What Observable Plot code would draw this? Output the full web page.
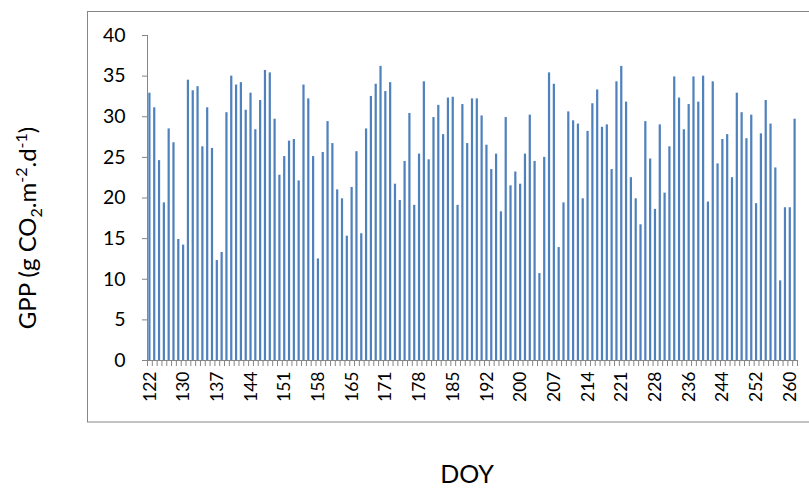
<!DOCTYPE html>
<html><head><meta charset="utf-8">
<script src="https://cdn.jsdelivr.net/npm/d3@7"></script>
<script src="https://cdn.jsdelivr.net/npm/@observablehq/plot@0.6"></script>
<style>body{margin:0;background:#fff} svg{display:block}</style>
</head><body><div id="chart"></div>
<script>
const gpp = [
  32.9, 31.1, 24.6, 19.4, 28.5, 26.8, 14.9, 14.2, 34.5, 33.2,
  33.7, 26.3, 31.1, 26.1, 12.3, 13.3, 30.5, 35.0, 33.9, 34.2,
  30.8, 32.9, 28.4, 32.0, 35.7, 35.4, 29.7, 22.8, 25.1, 27.0,
  27.2, 22.1, 33.9, 32.2, 25.1, 12.5, 25.6, 29.4, 26.7, 21.0,
  19.9, 15.3, 21.3, 25.7, 15.6, 28.5, 32.5, 34.0, 36.2, 33.1,
  34.2, 21.7, 19.7, 24.5, 30.4, 19.1, 25.4, 34.3, 24.7, 29.9,
  31.4, 27.8, 32.3, 32.4, 19.1, 31.5, 26.7, 32.2, 32.2, 30.1,
  26.5, 23.5, 25.4, 18.3, 29.9, 21.5, 23.2, 21.7, 25.4, 30.2,
  24.5, 10.7, 25.0, 35.4, 34.0, 13.9, 19.4, 30.6, 29.5, 29.1,
  19.9, 28.2, 31.6, 33.3, 28.7, 29.0, 23.5, 34.3, 36.2, 31.8,
  22.5, 19.9, 16.7, 29.4, 24.8, 18.6, 29.0, 20.6, 26.3, 34.9,
  32.3, 28.4, 31.5, 34.9, 31.8, 35.0, 19.5, 34.3, 24.2, 27.2,
  27.8, 22.5, 32.9, 30.5, 27.3, 30.2, 19.3, 27.9, 32.0, 29.1,
  23.7, 9.8, 18.8, 18.8, 29.7
];
const tickLabels = ["122","130","137","144","151","158","165","171","178","185",
  "192","200","207","214","221","228","236","244","252","260"];
const tickEvery = 7;
const yTicks = [0, 5, 10, 15, 20, 25, 30, 35, 40];

const data = gpp.map((v, i) => ({i, v}));
const labelPos = tickLabels.map((_, k) => k * tickEvery + 0.5);
const font = "Lato, 'Open Sans', sans-serif";
const gray = "#868686";

const chart = Plot.plot({
  width: 809, height: 489,
  marginLeft: 147, marginRight: 12, marginTop: 35, marginBottom: 129,
  style: {fontFamily: font, fontSize: "17px", color: "#000", background: "#fff"},
  x: {type: "linear", domain: [0, gpp.length]},
  y: {domain: [0, 40]},
  marks: [
    Plot.rectY(data, {x1: "i", x2: d => d.i + 1, y: "v", insetLeft: 1.3, insetRight: 1.3, fill: "#4f81bd"}),
    Plot.axisY({ticks: yTicks, tickSize: 5, tickPadding: 17, stroke: gray, label: null, fontSize: 19.5}),
    Plot.ruleX([0], {stroke: gray}),
    Plot.ruleY([0], {stroke: gray}),
    Plot.axisX({ticks: d3.range(0, gpp.length + 1), tickSize: 6, tickFormat: () => "", stroke: gray, label: null}),
    Plot.axisX({ticks: labelPos, tickSize: 0, tickPadding: 11, tickRotate: -90, fontSize: 17.5,
      tickFormat: d => tickLabels[Math.round((d - 0.5) / tickEvery)], label: null})
  ]
});

const svg = d3.select(chart);
svg.append("rect").attr("x", 87.5).attr("y", 11.5).attr("width", 800).attr("height", 410.5)
  .attr("fill", "none").attr("stroke", gray);

const t = svg.append("text").attr("transform", "translate(36,228) rotate(-90)")
  .attr("text-anchor", "middle").style("font-size", "24px").style("font-family", font).attr("fill", "#000");
t.append("tspan").text("GPP (g CO");
t.append("tspan").attr("dy", 6).style("font-size", "16px").text("2");
t.append("tspan").attr("dy", -6).text(".m");
t.append("tspan").attr("dy", -9).style("font-size", "16px").text("-2");
t.append("tspan").attr("dy", 9).text(".d");
t.append("tspan").attr("dy", -9).style("font-size", "16px").text("-1");
t.append("tspan").attr("dy", 9).text(")");

svg.append("text").attr("x", 467).attr("y", 483).attr("text-anchor", "middle")
  .style("font-size", "25px").style("font-family", font).attr("fill", "#000").text("DOY");

document.getElementById("chart").appendChild(chart);
</script>
</body></html>
